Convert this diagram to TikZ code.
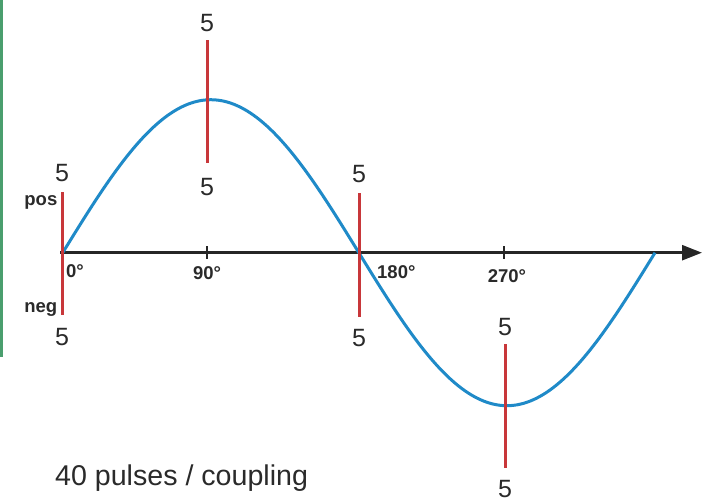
\documentclass[tikz,border=0pt]{standalone}
\usepackage{fontspec}
\setmainfont{Liberation Sans}
\usetikzlibrary{arrows.meta}
\definecolor{redline}{HTML}{C8373A}
\definecolor{blueline}{HTML}{1F8AC8}
\definecolor{greenline}{HTML}{4A9E6E}
\definecolor{txt}{HTML}{2A2A2A}
\tikzset{
  pulse/.style={draw=redline, line width=3pt},
  num/.style={font=\fontsize{25}{30}\selectfont, text=txt, inner sep=0pt, anchor=base},
  deg/.style={font=\fontsize{18.5}{22}\selectfont\bfseries, text=txt, inner sep=0pt},
  axisline/.style={draw=black!85, line width=2.5pt, -{Triangle[length=20pt,width=15pt]}},
  wave/.style={draw=blueline, line width=3pt, line join=round},
}
\begin{document}
\begin{tikzpicture}[x=1pt,y=-1pt]
\useasboundingbox (0,0) rectangle (703,499);
% green edge line
\fill[greenline] (0,0) rectangle (3,357);
% axis
\coordinate (o) at (60,252.7);
\coordinate (end) at (702,252.7);
\draw[axisline] (o) -- (end);
% ticks
\coordinate (t90a) at (206.7,246);
\coordinate (t90b) at (206.7,259);
\coordinate (t270a) at (504,246);
\coordinate (t270b) at (504,259);
\draw[black!85, line width=2pt] (t90a) -- (t90b);
\draw[black!85, line width=2pt] (t270a) -- (t270b);
% sine wave
\draw[wave] plot[domain=0:360, samples=91, smooth] ({62.7+\x/360*592.3}, {252.7-153*sin(\x)});
% pulses
\coordinate (p0a) at (62.7,192); \coordinate (p0b) at (62.7,315);
\coordinate (p1a) at (207,40); \coordinate (p1b) at (207,163);
\coordinate (p2a) at (359,193); \coordinate (p2b) at (359,317);
\coordinate (p3a) at (505,344); \coordinate (p3b) at (505,468);
\draw[pulse] (p0a) -- (p0b);
\draw[pulse] (p1a) -- (p1b);
\draw[pulse] (p2a) -- (p2b);
\draw[pulse] (p3a) -- (p3b);
% numbers
\node[num] (n0a) at (62,181) {5};
\node[num] (n0b) at (62,345) {5};
\node[num] (n1a) at (207,31) {5};
\node[num] (n1b) at (207,195) {5};
\node[num] (n2a) at (359,182) {5};
\node[num] (n2b) at (359,346) {5};
\node[num] (n3a) at (505,335) {5};
\node[num] (n3b) at (505,497) {5};
% pos / neg
\node[deg, anchor=base east] (pos) at (57.5,205) {pos};
\node[deg, anchor=base east] (neg) at (57.5,312) {neg};
% degree labels
\node[deg, anchor=base west] (d0) at (66,277) {0°};
\node[deg, anchor=base] (d90) at (207,279) {90°};
\node[deg, anchor=base west] (d180) at (377,278) {180°};
\node[deg, anchor=base] (d270) at (507,282) {270°};
% caption
\node[font=\fontsize{28.6}{32}\selectfont, text=txt, inner sep=0pt, anchor=base west] (cap) at (55,485) {40 pulses / coupling};
\end{tikzpicture}
\end{document}
